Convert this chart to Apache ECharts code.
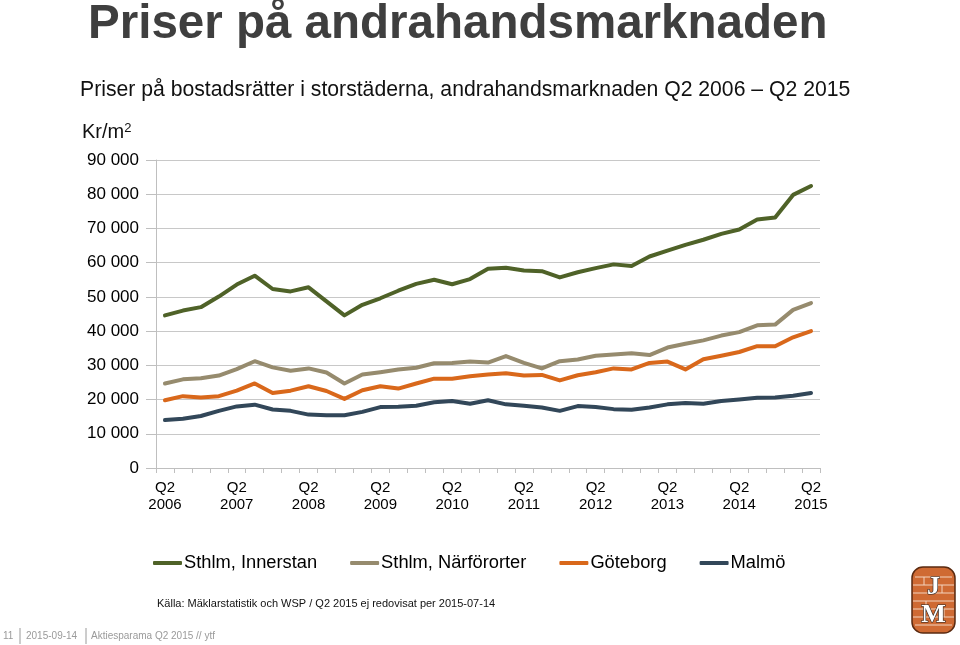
<!DOCTYPE html>
<html>
<head>
<meta charset="utf-8">
<script src="https://cdn.jsdelivr.net/npm/echarts@6/dist/echarts.min.js"></script>
<style>html,body{margin:0;padding:0;background:#fff;}#c{width:960px;height:645px;}</style>
</head>
<body>
<div id="c"></div>
<script>
const quarters = ["Q2 2006","Q3 2006","Q4 2006","Q1 2007","Q2 2007","Q3 2007","Q4 2007","Q1 2008","Q2 2008","Q3 2008","Q4 2008","Q1 2009","Q2 2009","Q3 2009","Q4 2009","Q1 2010","Q2 2010","Q3 2010","Q4 2010","Q1 2011","Q2 2011","Q3 2011","Q4 2011","Q1 2012","Q2 2012","Q3 2012","Q4 2012","Q1 2013","Q2 2013","Q3 2013","Q4 2013","Q1 2014","Q2 2014","Q3 2014","Q4 2014","Q1 2015","Q2 2015"];
const seriesNames = ["Sthlm, Innerstan","Sthlm, Närförorter","Göteborg","Malmö"];
const innerstan = [44600,46000,47000,50100,53600,56200,52300,51600,52800,48700,44600,47700,49600,51800,53800,55000,53700,55200,58200,58500,57700,57500,55700,57200,58400,59500,59000,61800,63500,65200,66700,68400,69700,72600,73200,79800,82400];
const narfororter = [24700,25900,26200,27000,28900,31200,29400,28400,29100,27900,24700,27300,28000,28800,29300,30600,30700,31100,30800,32700,30700,29100,31200,31700,32800,33200,33500,33000,35200,36300,37300,38700,39700,41700,41900,46200,48200];
const goteborg = [19800,21000,20600,21000,22600,24700,21900,22600,23900,22500,20200,22700,23900,23200,24700,26100,26100,26800,27300,27700,27000,27200,25600,27100,28000,29100,28800,30700,31100,28800,31800,32800,33900,35600,35600,38200,40000];
const malmo = [14000,14400,15200,16700,18000,18500,17100,16700,15600,15400,15400,16400,17800,17900,18200,19200,19600,18800,19800,18600,18200,17700,16700,18100,17800,17200,17000,17700,18600,19000,18800,19600,20000,20500,20600,21100,21900];
const colors = ["#4F6228","#968B6E","#D9681B","#324759"];

const chart = echarts.init(document.getElementById('c'), null, {renderer:'canvas'});
const F = 'Liberation Sans, Arial, sans-serif';
const mk = (name, data, i) => ({
  name, type:'line', data, symbol:'none', smooth:false,
  lineStyle:{color:colors[i], width:4, cap:'round', join:'round'},
  itemStyle:{color:colors[i]}, emphasis:{disabled:true}, z: 10 - i
});
chart.setOption({
  animation:false,
  textStyle:{fontFamily:F},
  grid:{left:156, right:140, top:160, bottom:177, containLabel:false},
  legend:{
    data:seriesNames, left:148, top:549, icon:'roundRect', itemWidth:29, itemHeight:4,
    itemGap:33, textStyle:{fontSize:18.3, color:'#000', fontFamily:F, padding:[0,0,0,-3]}
  },
  xAxis:{
    type:'category', data:quarters, boundaryGap:true,
    axisLine:{lineStyle:{color:'#BFBFBF', width:1}},
    axisTick:{show:true, interval:0, length:5, lineStyle:{color:'#BFBFBF'}},
    axisLabel:{interval:3, margin:11, fontSize:15, lineHeight:17, color:'#000', fontFamily:F,
      formatter:(v)=>v.replace(' ','\n')},
    splitLine:{show:false}
  },
  yAxis:{
    type:'value', min:0, max:90000, interval:10000,
    axisLine:{show:true, lineStyle:{color:'#BFBFBF'}},
    axisTick:{show:true, length:10, lineStyle:{color:'#BFBFBF'}},
    axisLabel:{margin:17, fontSize:17, color:'#000', fontFamily:F,
      formatter:(v)=> v===0 ? '0' : String(v).replace(/(\d)(?=(\d{3})+$)/g,'$1 ')},
    splitLine:{show:true, lineStyle:{color:'#C8C8C8', width:1}}
  },
  series:[mk(seriesNames[0],innerstan,0), mk(seriesNames[1],narfororter,1), mk(seriesNames[2],goteborg,2), mk(seriesNames[3],malmo,3)],
  graphic:[
    {type:'text', x:88, y:25, scaleX:0.99, style:{text:'Priser på andrahandsmarknaden', font:'bold 48px '+F, fill:'#3F3F3F', textVerticalAlign:'middle'}},
    {type:'text', x:80, y:90, style:{text:'Priser på bostadsrätter i storstäderna, andrahandsmarknaden Q2 2006 – Q2 2015', font:'21.2px '+F, fill:'#111', textVerticalAlign:'middle'}},
    {type:'text', x:82, y:132, style:{text:'{a|Kr/m}{b|2}', fill:'#111', textVerticalAlign:'middle',
      rich:{a:{fontSize:20, fontFamily:F, color:'#111'}, b:{fontSize:13, fontFamily:F, color:'#111', verticalAlign:'top', padding:[0,0,8,0]}}}},
    {type:'text', x:157, y:604, style:{text:'Källa: Mäklarstatistik och WSP / Q2 2015 ej redovisat per 2015-07-14', font:'11px '+F, fill:'#111', textVerticalAlign:'middle'}},
    {type:'text', x:3, y:636, style:{text:'11', font:'10px '+F, fill:'#9A9A9A', textVerticalAlign:'middle'}},
    {type:'line', shape:{x1:20, y1:628, x2:20, y2:644}, style:{stroke:'#9A9A9A', lineWidth:1}},
    {type:'text', x:26, y:636, style:{text:'2015-09-14', font:'10px '+F, fill:'#9A9A9A', textVerticalAlign:'middle'}},
    {type:'line', shape:{x1:86, y1:628, x2:86, y2:644}, style:{stroke:'#9A9A9A', lineWidth:1}},
    {type:'text', x:91, y:636, style:{text:'Aktiesparama Q2 2015 // ytf', font:'10px '+F, fill:'#9A9A9A', textVerticalAlign:'middle'}},
    {type:'group', x:912, y:567, children:[
      {type:'rect', shape:{x:0, y:0, width:43, height:66, r:11}, style:{fill:'#CF6A33', stroke:'#5A2A10', lineWidth:1.5}},
      {type:'line', shape:{x1:3, y1:10, x2:40, y2:10}, style:{stroke:'#F3D3BF', lineWidth:1}},
      {type:'line', shape:{x1:1, y1:18, x2:42, y2:18}, style:{stroke:'#F3D3BF', lineWidth:1}},
      {type:'line', shape:{x1:1, y1:26, x2:42, y2:26}, style:{stroke:'#F3D3BF', lineWidth:1}},
      {type:'line', shape:{x1:1, y1:34, x2:42, y2:34}, style:{stroke:'#F3D3BF', lineWidth:1}},
      {type:'line', shape:{x1:1, y1:42, x2:42, y2:42}, style:{stroke:'#F3D3BF', lineWidth:1}},
      {type:'line', shape:{x1:1, y1:50, x2:42, y2:50}, style:{stroke:'#F3D3BF', lineWidth:1}},
      {type:'line', shape:{x1:3, y1:58, x2:40, y2:58}, style:{stroke:'#F3D3BF', lineWidth:1}},
      {type:'line', shape:{x1:12, y1:10, x2:12, y2:18}, style:{stroke:'#F3D3BF', lineWidth:1}},
      {type:'line', shape:{x1:30, y1:18, x2:30, y2:26}, style:{stroke:'#F3D3BF', lineWidth:1}},
      {type:'line', shape:{x1:14, y1:34, x2:14, y2:42}, style:{stroke:'#F3D3BF', lineWidth:1}},
      {type:'line', shape:{x1:32, y1:42, x2:32, y2:50}, style:{stroke:'#F3D3BF', lineWidth:1}},
      {type:'text', x:21.5, y:20, style:{text:'J', font:'bold 26px "Liberation Serif", serif', fill:'#FFFFFF', stroke:'#222', lineWidth:1.2, textAlign:'center', textVerticalAlign:'middle'}},
      {type:'text', x:21.5, y:48, style:{text:'M', font:'bold 26px "Liberation Serif", serif', fill:'#FFFFFF', stroke:'#222', lineWidth:1.2, textAlign:'center', textVerticalAlign:'middle'}}
    ]}
  ]
});
</script>
</body>
</html>
